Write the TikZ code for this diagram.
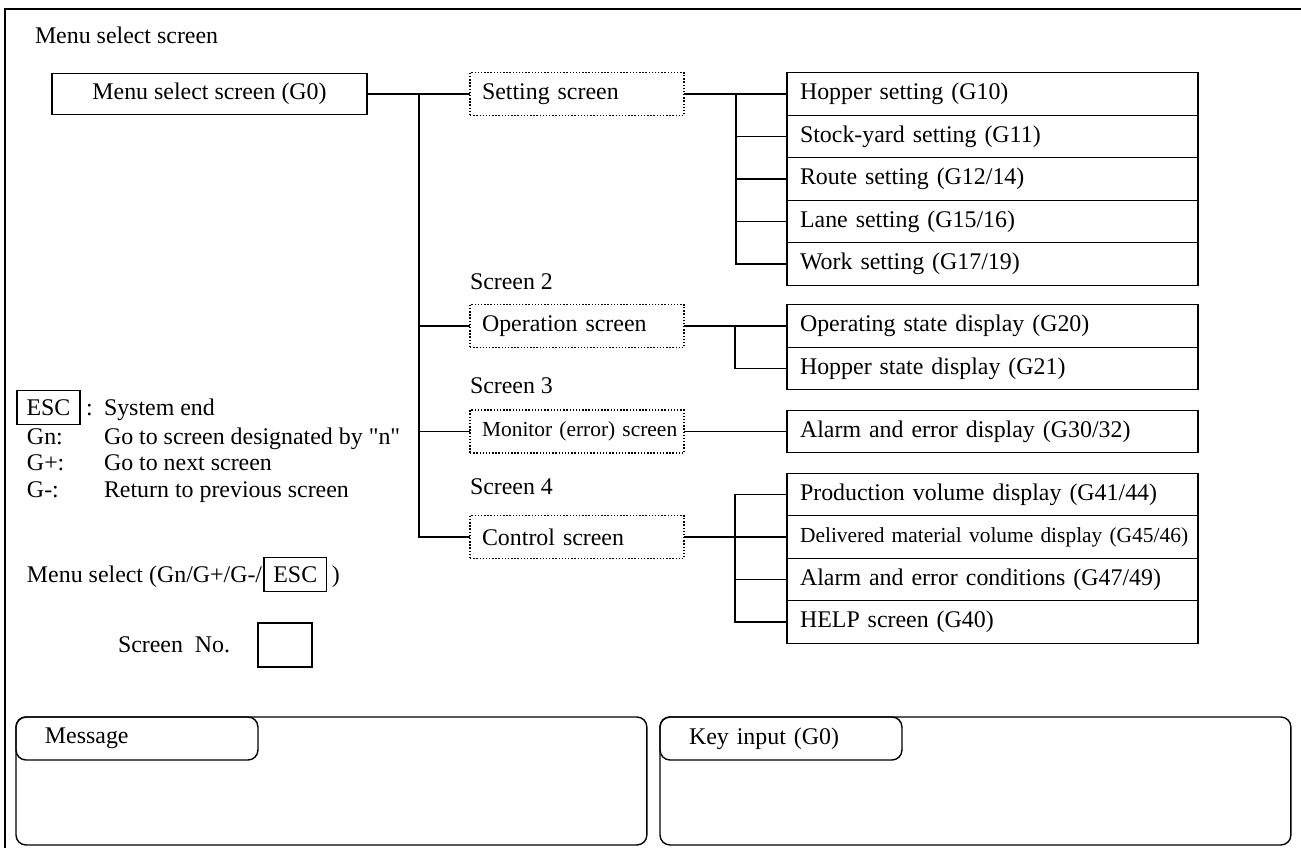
\documentclass[tikz,border=0pt]{standalone}
\usepackage{fontspec}
\setmainfont{Liberation Serif}
\usetikzlibrary{positioning}

\begin{document}
\begin{tikzpicture}[x=0.02cm, y=-0.02cm, line width=0.8pt,
        font=\fontsize{13.6}{16}\selectfont,
        every node/.style={outer sep=0pt},
        lbl/.style={anchor=base west, inner sep=0pt},
        small/.style={font=\fontsize{12.2}{14}\selectfont},
        menubox/.style={draw, minimum width=6.3cm, minimum height=0.82cm},
        scrbox/.style={draw, densely dotted, minimum height=0.86cm, text width=3.8cm, inner xsep=0.24cm, align=left},
        rowbox/.style={draw, minimum height=0.85cm, text width=7.7cm, inner xsep=0.26cm, align=left},
        keybox/.style={draw, inner xsep=0.19cm, minimum height=0.68cm},
        tabbox/.style={draw, rounded corners=0.2cm, anchor=north west, minimum height=0.86cm, text width=3.68cm, inner xsep=0.58cm, align=left},
        panel/.style={draw, rounded corners=0.2cm, anchor=north west, minimum width=12.62cm, minimum height=2.56cm}]
        \useasboundingbox (0,0) rectangle (1301,848);
        % frame, cut off at right and bottom
        \draw[line width=1.2pt] (1301,9) -- (5,9) -- (5,848);

        \node[lbl] (title) at (35,44) {Menu select screen};
        \node[menubox] (menu) at (209.5,94) {Menu select screen (G0)};

        % screens
        \node[scrbox] (set) at (577,94) {Setting screen};
        \node[lbl] (s2) at (470,289) {Screen 2};
        \node[scrbox] (op) at (577,326) {Operation screen};
        \node[lbl] (s3) at (470,393) {Screen 3};
        \node[scrbox, small] (mon) at (577,431.5) {\mbox{Monitor (error) screen}};
        \node[lbl] (s4) at (470,494) {Screen 4};
        \node[scrbox] (ctl) at (577,537) {Control screen};

        % sub screens
        \node[rowbox] (hop) at (992.5,94) {Hopper setting (G10)};
        \node[rowbox, below=0pt of hop] (yard) {Stock-yard setting (G11)};
        \node[rowbox, below=0pt of yard] (route) {Route setting (G12/14)};
        \node[rowbox, below=0pt of route] (lane) {Lane setting (G15/16)};
        \node[rowbox, below=0pt of lane] (work) {Work setting (G17/19)};

        \node[rowbox] (opst) at (992.5,326) {Operating state display (G20)};
        \node[rowbox, below=0pt of opst] (hopst) {Hopper state display (G21)};

        \node[rowbox] (alarm) at (992.5,431.5) {Alarm and error display (G30/32)};

        \node[rowbox] (prod) at (992.5,494.5) {Production volume display (G41/44)};
        \node[rowbox, small, below=0pt of prod] (deliv) {\mbox{Delivered material volume display (G45/46)}};
        \node[rowbox, below=0pt of deliv] (cond) {Alarm and error conditions (G47/49)};
        \node[rowbox, below=0pt of cond] (help) {HELP screen (G40)};

        % tree lines
        \coordinate (trunk) at (419,94);
        \draw (menu.east) -- (set.west);
        \draw (trunk) |- (ctl.west);
        \draw (trunk |- op.west) -- (op.west);
        \draw (trunk |- mon.west) -- (mon.west);

        \coordinate (br1) at (736,94);
        \draw (set.east) -- (hop.west);
        \draw (br1) |- (work.west);
        \foreach \n in {yard,route,lane}
            \draw (br1 |- \n.west) -- (\n.west);

        \coordinate (br2) at (735,326);
        \draw (op.east) -- (opst.west);
        \draw (br2) |- (hopst.west);

        \draw (mon.east) -- (alarm.west);

        \coordinate (br3) at (735,0);
        \draw (ctl.east) -- (ctl.east -| deliv.west);
        \draw (prod.west) -| (br3 |- help.west) -- (help.west);
        \draw (br3 |- cond.west) -- (cond.west);

        % keys
        \node[keybox, anchor=base] (esc) at (48.5,415) {ESC};
        \node[lbl] (colon) at (86,415) {:};
        \node[lbl] (escend) at (104,415) {System end};
        \node[lbl] (gn) at (27,444) {Gn:};
        \node[lbl] (gntxt) at (104,444) {Go to screen designated by \textquotedbl n\textquotedbl};
        \node[lbl] (gp) at (27,470) {G+:};
        \node[lbl] (gptxt) at (104,470) {Go to next screen};
        \node[lbl] (gm) at (27,497) {G-:};
        \node[lbl] (gmtxt) at (104,497) {Return to previous screen};

        \node[lbl] (msel) at (27,582) {Menu select (Gn/G+/G-/};
        \node[keybox, right=1pt of msel.base east, anchor=base west] (esc2) {ESC};
        \node[lbl, right=3pt of esc2.base east, anchor=base west] (mclose) {)};

        \node[lbl] (scrno) at (118,652) {Screen\ \ No.};
        \node[draw, minimum width=1.08cm, minimum height=0.88cm] (nobox) at (285,645) {};

        % bottom panels
        \node[panel] (msgp) at (16,717) {};
        \node[tabbox] (msg) at (16,717) {Message};
        \node[panel] (keyp) at (660,717) {};
        \node[tabbox] (key) at (660,717) {Key input (G0)};
    \end{tikzpicture}
\end{document}
